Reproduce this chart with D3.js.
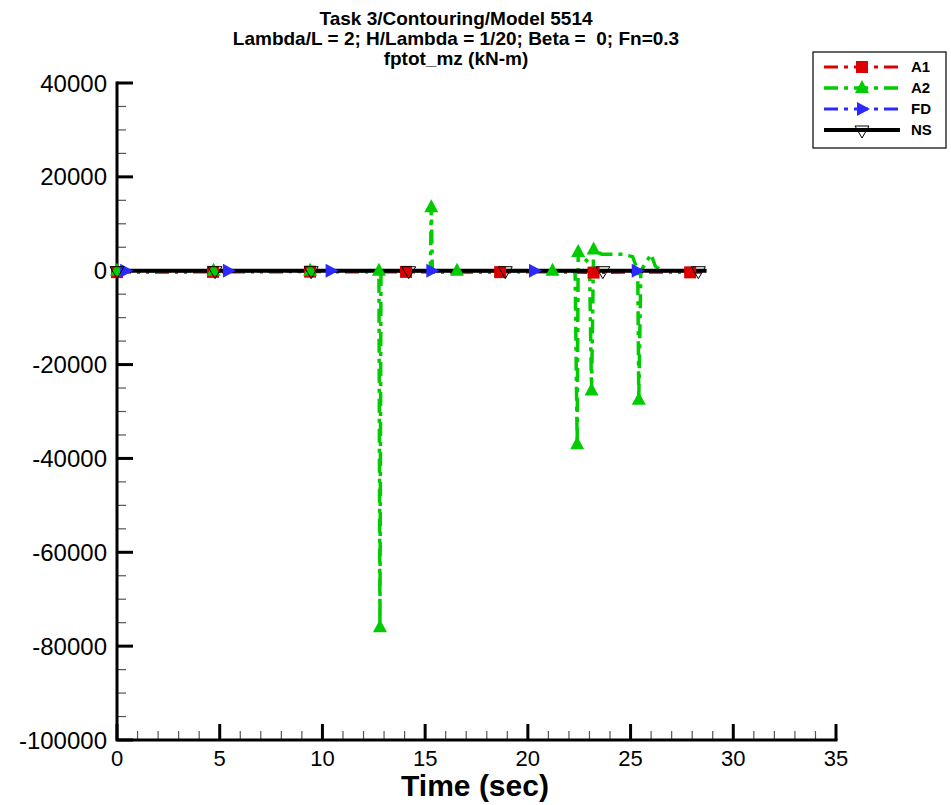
<!DOCTYPE html>
<html lang="en">
<head>
    <title>fptot_mz</title>
    <script src="https://d3js.org/d3.v7.min.js"></script>
    <style>
        body { margin: 0; background: #fff; }
        text { font-family: "Liberation Sans", Arial, sans-serif; fill: #000; }
        .title { font-size: 19px; font-weight: bold; text-anchor: middle; white-space: pre; }
        .ytick { font-size: 24px; text-anchor: end; }
        .xtick { font-size: 22px; text-anchor: middle; }
        .legend text { font-size: 15px; font-weight: bold; }
    </style>
</head>
<body>

<script>
    // title lines
    const titles = ["Task 3/Contouring/Model 5514",
                    "Lambda/L = 2; H/Lambda = 1/20; Beta =  0; Fn=0.3",
                    "fptot_mz (kN-m)"];

    // series: time (sec), value (kN-m), indices carrying a symbol
    const a1Time = [0, 2.3, 4.67, 7.0, 9.4, 11.7, 14.07, 16.4, 18.65, 21.0, 23.2, 25.6, 27.9, 28.6];
    const a1Val  = [-300, -350, -250, -300, -200, -300, -250, -350, -300, -250, -400, -300, -350, -300];
    const a1Mark = [0, 2, 4, 6, 8, 10, 12];

    const a2Time = [0, 4.7, 9.4, 12.75, 12.8, 12.85, 15.25, 15.3, 15.35, 16.55, 21.2, 22.3, 22.4, 22.45,
                    23.0, 23.1, 23.2, 23.6, 24.6, 25.1, 25.35, 25.4, 25.5, 26.0, 26.2, 26.5, 28.6];
    const a2Val  = [0, 0, 0, 0, -76000, 0, 0, 13500, 0, 0, 0, 0, -37000, 4000,
                    1500, -25500, 4500, 3500, 3500, 3000, 0, -27500, 0, 3500, 1000, 0, 0];
    const a2Mark = [0, 1, 2, 3, 4, 7, 9, 10, 12, 13, 15, 16, 21];

    const fdTime = [0, 0.4, 5.4, 10.4, 15.3, 20.3, 25.3, 28.7];
    const fdVal  = [0, 0, 0, 0, 0, 0, 0, 0];
    const fdMark = [1, 2, 3, 4, 5, 6];

    const nsTime = [0, 4.77, 9.45, 14.2, 18.9, 23.65, 28.3, 28.7];
    const nsVal  = [0, 0, 0, 0, 0, 0, 0, 0];
    const nsMark = [0, 1, 2, 3, 4, 5, 6];

    const xTicks = [0, 5, 10, 15, 20, 25, 30, 35];
    const yTicks = [40000, 20000, 0, -20000, -40000, -60000, -80000, -100000];

    const series = [
        {name: "A1", t: a1Time, v: a1Val, m: a1Mark, color: "#dd0000", dash: "14,6,3,6,3,6", width: 3, sym: "square"},
        {name: "A2", t: a2Time, v: a2Val, m: a2Mark, color: "#00cc00", dash: "14,6,4,6", width: 3.5, sym: "up"},
        {name: "FD", t: fdTime, v: fdVal, m: fdMark, color: "#2a2aff", dash: "14,6,4,6", width: 3, sym: "right"},
        {name: "NS", t: nsTime, v: nsVal, m: nsMark, color: "#000", dash: null, width: 4, sym: "down"}
    ];

    const W = 951, H = 805;
    const x = d3.scaleLinear().domain([0, 35]).range([117, 836]);
    const y = d3.scaleLinear().domain([-100000, 40000]).range([740, 83]);

    const svg = d3.select("body").append("svg").attr("width", W).attr("height", H);

    // titles
    svg.selectAll(".title").data(titles).join("text")
        .attr("class", "title")
        .attr("x", 456).attr("y", (d, i) => 25 + i * 20)
        .text(d => d);

    // axes (ticks point inward)
    const gx = svg.append("g").attr("transform", "translate(0,740)");
    gx.selectAll(".mtick").data(x.ticks(35)).join("line")
        .attr("x1", d => x(d)).attr("x2", d => x(d))
        .attr("y1", 0).attr("y2", d => d % 5 === 0 ? -16 : -9)
        .attr("stroke", d => d % 5 === 0 ? "#000" : "#555")
        .attr("stroke-width", d => d % 5 === 0 ? 3 : 1.2);
    gx.selectAll(".xtick").data(xTicks).join("text")
        .attr("class", "xtick")
        .attr("x", d => x(d)).attr("y", 26)
        .text(d => d);

    const gy = svg.append("g").attr("transform", "translate(117,0)");
    gy.selectAll(".mtick").data(d3.range(-100000, 40001, 5000)).join("line")
        .attr("y1", d => y(d)).attr("y2", d => y(d))
        .attr("x1", 0).attr("x2", d => d % 20000 === 0 ? 16 : 9)
        .attr("stroke", d => d % 20000 === 0 ? "#000" : "#555")
        .attr("stroke-width", d => d % 20000 === 0 ? 3 : 1.2);
    gy.selectAll(".ytick").data(yTicks).join("text")
        .attr("class", "ytick")
        .attr("x", -10).attr("y", d => y(d)).attr("dy", "0.36em")
        .text(d => d);

    svg.append("path")
        .attr("d", `M${x(0)},${y(40000)}V${y(-100000)}H${x(35)}`)
        .attr("fill", "none").attr("stroke", "#000").attr("stroke-width", 3)
        .attr("stroke-linecap", "square");

    // lines
    const line = d3.line().x(d => x(d[0])).y(d => y(d[1]));
    series.forEach(s => {
        const pts = s.t.map((t, i) => [t, s.v[i]]);
        svg.append("path").datum(pts)
            .attr("d", line)
            .attr("fill", "none")
            .attr("stroke", s.color)
            .attr("stroke-width", s.width)
            .attr("stroke-dasharray", s.dash);
    });

    // symbols
    function symbol(g, type, color) {
        if (type === "square") {
            g.append("rect").attr("x", -6).attr("y", -6).attr("width", 12).attr("height", 12).attr("fill", color);
        } else if (type === "up") {
            g.append("path").attr("d", "M0,-8L7,5H-7Z").attr("fill", color);
        } else if (type === "right") {
            g.append("path").attr("d", "M-5,-7L8,0L-5,7Z").attr("fill", color);
        } else {
            g.append("path").attr("d", "M-7,-4H7L0,8Z").attr("fill", "none")
                .attr("stroke", "#000").attr("stroke-width", 1);
        }
    }
    series.forEach(s => {
        s.m.forEach(i => {
            const g = svg.append("g").attr("transform", `translate(${x(s.t[i])},${y(s.v[i])})`);
            symbol(g, s.sym, s.color);
        });
    });

    // legend
    const lg = svg.append("g").attr("class", "legend");
    lg.append("rect").attr("x", 813).attr("y", 52).attr("width", 133).attr("height", 96)
        .attr("fill", "#fff").attr("stroke", "#000").attr("stroke-width", 1.2);
    series.forEach((s, i) => {
        const ly = 67 + i * 21;
        lg.append("line").attr("x1", 824).attr("x2", 900).attr("y1", ly).attr("y2", ly)
            .attr("stroke", s.color).attr("stroke-width", s.width)
            .attr("stroke-dasharray", s.dash ? "14,6,4,6" : null);
        const g = lg.append("g").attr("transform", `translate(862,${ly})`);
        symbol(g, s.sym, s.color);
        lg.append("text").attr("x", 911).attr("y", ly).attr("dy", "0.36em").text(s.name);
    });

    // axis title
    svg.append("text")
        .attr("x", 475).attr("y", 796)
        .attr("text-anchor", "middle")
        .style("font-size", "30px").style("font-weight", "bold")
        .text("Time (sec)");
</script>

</body>
</html>
